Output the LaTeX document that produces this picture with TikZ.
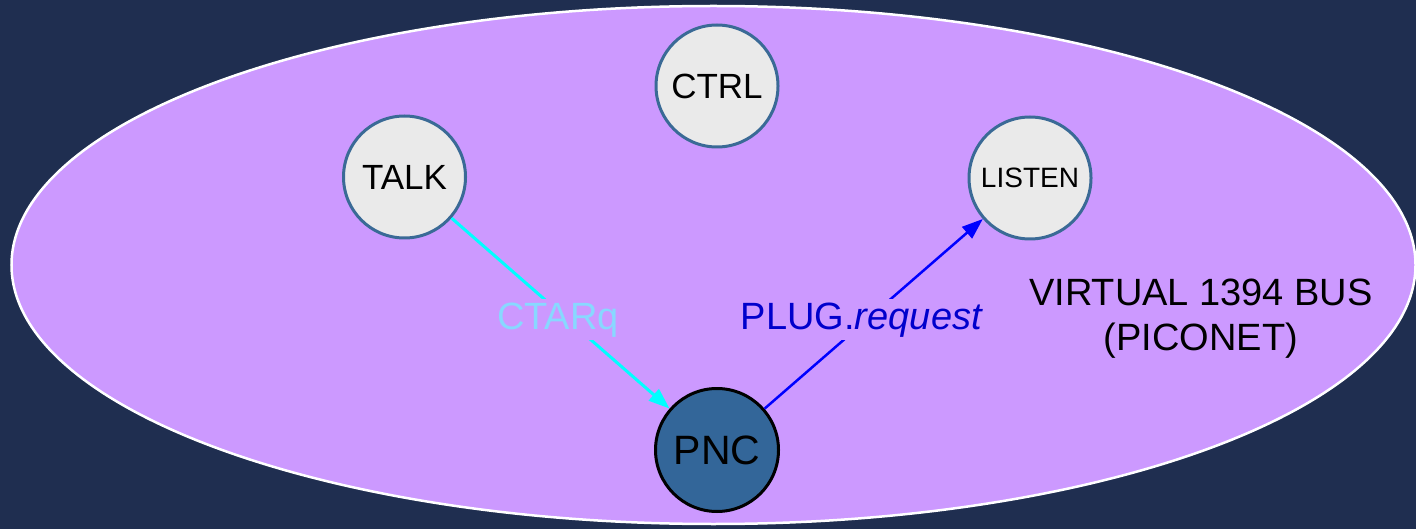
\documentclass[tikz,border=0pt]{standalone}
\usepackage{fontspec}
\setmainfont{Liberation Sans}
\usetikzlibrary{arrows.meta}
\definecolor{bgnavy}{HTML}{1F2E50}
\definecolor{busfill}{HTML}{CC99FF}
\definecolor{devfill}{HTML}{EAEAEA}
\definecolor{devedge}{HTML}{3A6A96}
\definecolor{pncfill}{HTML}{336699}
\definecolor{ctarcol}{HTML}{88D8FF}
\definecolor{ctarline}{HTML}{00FFFF}
\definecolor{plugcol}{HTML}{0000CC}
\definecolor{plugline}{HTML}{0000FF}
\tikzset{
  device/.style={circle, minimum size=122pt, inner sep=0pt, fill=devfill,
    draw=devedge, line width=3pt, text=black, font=\fontsize{35}{42}\selectfont},
  coord/.style={circle, minimum size=123pt, inner sep=0pt, fill=pncfill,
    draw=black, line width=3pt, text=black, font=\fontsize{41}{48}\selectfont},
  msglabel/.style={fill=busfill, inner sep=3pt, anchor=base, font=\fontsize{38}{46}\selectfont},
  ctararrow/.style={draw=ctarline, line width=3pt, -{Triangle[length=21pt,width=15pt]}},
  plugarrow/.style={draw=plugline, line width=2.5pt, -{Triangle[length=21pt,width=15pt]}}
}
\begin{document}
\begin{tikzpicture}[x=1pt, y=-1pt]
  % page and background
  \fill[bgnavy] (0,0) rectangle (1416,529);
  \useasboundingbox (0,0) rectangle (1416,529);
  % the virtual bus
  \draw[fill=busfill, draw=white, line width=2.5pt] (713.5,265) ellipse [x radius=702, y radius=259];
  \node[align=center, anchor=base, font=\fontsize{38}{45}\selectfont] (bus) at (1201,350)
    {VIRTUAL 1394 BUS\\(PICONET)};
  % devices
  \node[device] (ctrl) at (717,86) {CTRL};
  \node[device] (talk) at (404.5,177) {TALK};
  \node[device, font=\fontsize{28}{33}\selectfont] (listen) at (1030,178) {LISTEN};
  \node[coord] (pnc) at (717,450) {PNC};
  % messages
  \draw[ctararrow] (talk) -- (pnc);
  \draw[plugarrow] (pnc) -- (listen);
  \node[msglabel, text=ctarcol] (ctarq) at (558,329) {CTARq};
  \node[msglabel, text=plugcol] (plugreq) at (862,329) {PLUG.\textit{request}};
\end{tikzpicture}
\end{document}
